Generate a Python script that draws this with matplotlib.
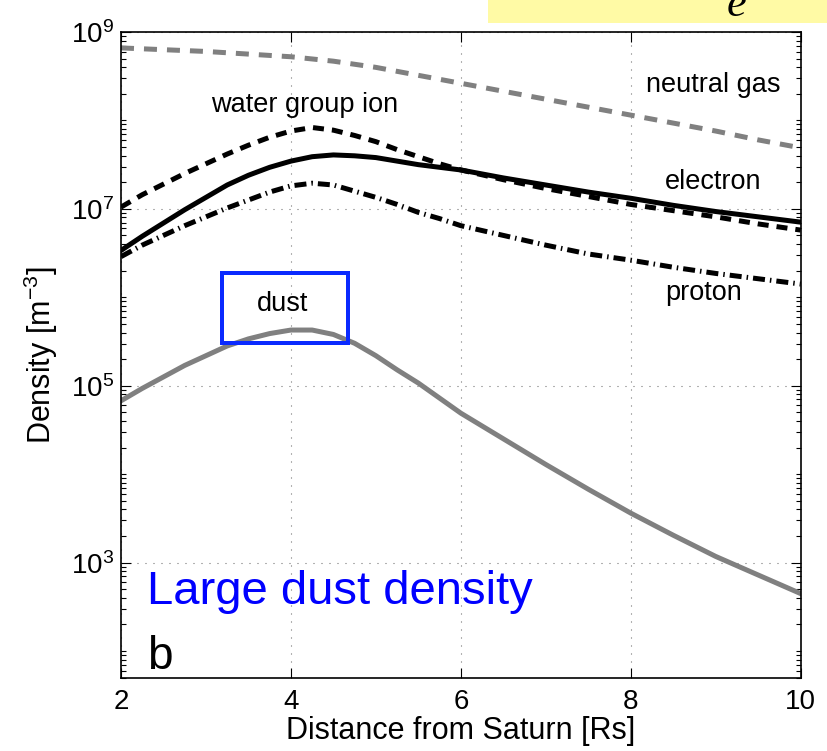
import numpy as np
import matplotlib
matplotlib.use('Agg')
import matplotlib.pyplot as plt
from matplotlib.ticker import LogLocator, FixedLocator, NullFormatter
from matplotlib.patches import Rectangle

plt.rcParams['font.family'] = ['Liberation Sans', 'DejaVu Sans']
plt.rcParams['mathtext.fontset'] = 'custom'
plt.rcParams['mathtext.rm'] = 'Liberation Sans'
plt.rcParams['mathtext.it'] = 'Liberation Sans:italic'
plt.rcParams['mathtext.default'] = 'regular'
plt.rcParams['lines.scale_dashes'] = False

# distance from Saturn [Rs]
dist = [2.0, 2.25, 2.5, 2.75, 3.0, 3.25, 3.5, 3.75, 4.0, 4.25, 4.5, 4.75,
        5.0, 5.25, 5.5, 5.75, 6.0, 6.5, 7.0, 7.5, 8.0, 8.5, 9.0, 9.5, 10.0]

# log10 of density [m^-3]
log_neutral = [8.82, 8.81, 8.80, 8.79, 8.78, 8.765, 8.75, 8.735, 8.72, 8.695, 8.67, 8.635,
               8.60, 8.555, 8.51, 8.465, 8.42, 8.33, 8.24, 8.15, 8.06, 7.97, 7.88, 7.78, 7.69]
log_water = [7.02, 7.16, 7.28, 7.40, 7.51, 7.62, 7.72, 7.81, 7.88, 7.92, 7.89, 7.83,
             7.76, 7.67, 7.59, 7.51, 7.44, 7.33, 7.23, 7.14, 7.05, 6.98, 6.91, 6.83, 6.76]
log_electron = [6.53, 6.69, 6.84, 6.99, 7.13, 7.27, 7.38, 7.47, 7.54, 7.59, 7.61, 7.60,
                7.58, 7.54, 7.50, 7.47, 7.44, 7.35, 7.27, 7.19, 7.12, 7.04, 6.97, 6.91, 6.85]
log_proton = [6.46, 6.59, 6.70, 6.81, 6.91, 7.01, 7.10, 7.19, 7.26, 7.29, 7.27, 7.20,
              7.13, 7.05, 6.96, 6.89, 6.81, 6.70, 6.59, 6.49, 6.42, 6.34, 6.27, 6.21, 6.15]
log_dust = [4.83, 4.97, 5.10, 5.23, 5.34, 5.45, 5.53, 5.59, 5.63, 5.63, 5.58, 5.48,
            5.34, 5.18, 5.03, 4.86, 4.69, 4.40, 4.11, 3.83, 3.56, 3.31, 3.07, 2.86, 2.65]

px = 0.72  # points per pixel at dpi 100
gray = '#808080'

fig = plt.figure(figsize=(8.27, 7.51), dpi=100)
ax = fig.add_axes([0.1463, 0.0976, 0.8219, 0.8598])

lw = 5 * px
ax.plot(dist, 10**np.array(log_neutral), color=gray, lw=lw, dashes=(13*px, 10*px))
ax.plot(dist, 10**np.array(log_water), color='k', lw=lw, dashes=(11*px, 8*px))
ax.plot(dist, 10**np.array(log_electron), color='k', lw=lw)
ax.plot(dist, 10**np.array(log_proton), color='k', lw=lw,
        dashes=(12*px, 5*px, 1.5*px, 5*px))
ax.plot(dist, 10**np.array(log_dust), color=gray, lw=lw)

ax.set_yscale('log')
ax.set_xlim(2, 10)
ax.set_ylim(50, 1e9)

ax.xaxis.set_major_locator(FixedLocator([2, 4, 6, 8, 10]))
ax.yaxis.set_major_locator(FixedLocator([1e3, 1e5, 1e7, 1e9]))
ax.set_yticklabels(['$10^{3}$', '$10^{5}$', '$10^{7}$', '$10^{9}$'])
ax.yaxis.set_minor_locator(LogLocator(base=10, subs=np.arange(1, 10), numticks=20))
ax.yaxis.set_minor_formatter(NullFormatter())

ax.tick_params(which='both', direction='in', top=True, right=True, width=0.8)
ax.tick_params(which='major', length=7, labelsize=20)
ax.tick_params(which='minor', length=3.5)
ax.tick_params(axis='x', pad=8)
ax.tick_params(axis='y', pad=5)

ax.grid(True, which='major', color='k', lw=0.8, linestyle=(0, (1*px, 7*px)), alpha=0.6)
for s in ax.spines.values():
    s.set_linewidth(1.2)

ax.set_xlabel('Distance from Saturn [Rs]', fontsize=22, labelpad=1)
ax.set_ylabel('Density [m$^{-3}$]', fontsize=22, labelpad=8)

# curve labels
ax.text(4.165, 10**8.17, 'water group ion', fontsize=19.5, ha='center', va='center')
ax.text(8.965, 10**8.40, 'neutral gas', fontsize=19.5, ha='center', va='center')
ax.text(8.965, 10**7.30, 'electron', fontsize=19.5, ha='center', va='center')
ax.text(8.86, 10**6.05, 'proton', fontsize=19.5, ha='center', va='center')

# dust box
ax.add_patch(Rectangle((3.19, 10**5.486), 4.67 - 3.19, 10**6.28 - 10**5.486,
                       fill=False, edgecolor='#0a2aff', lw=4*px, zorder=5))
ax.text(3.906, 10**5.93, 'dust', fontsize=19.5, ha='center', va='center')

ax.text(2.306, 10**2.533, 'Large dust density', fontsize=34, color='blue', ha='left', va='baseline')
ax.text(2.306, 10**1.797, 'b', fontsize=33, color='k', ha='left', va='baseline')

# yellow strip at the top with the italic e
fig.patches.append(Rectangle((488/827, 1 - 23/751), (827 - 488)/827, 23/751,
                             transform=fig.transFigure, facecolor='#fffaa5',
                             edgecolor='none', zorder=0))
fig.text(737/827, 1 - 16/751, 'e', fontsize=32, family='Liberation Serif',
         style='italic', ha='center', va='baseline')

fig.savefig('out.png', dpi=100)
